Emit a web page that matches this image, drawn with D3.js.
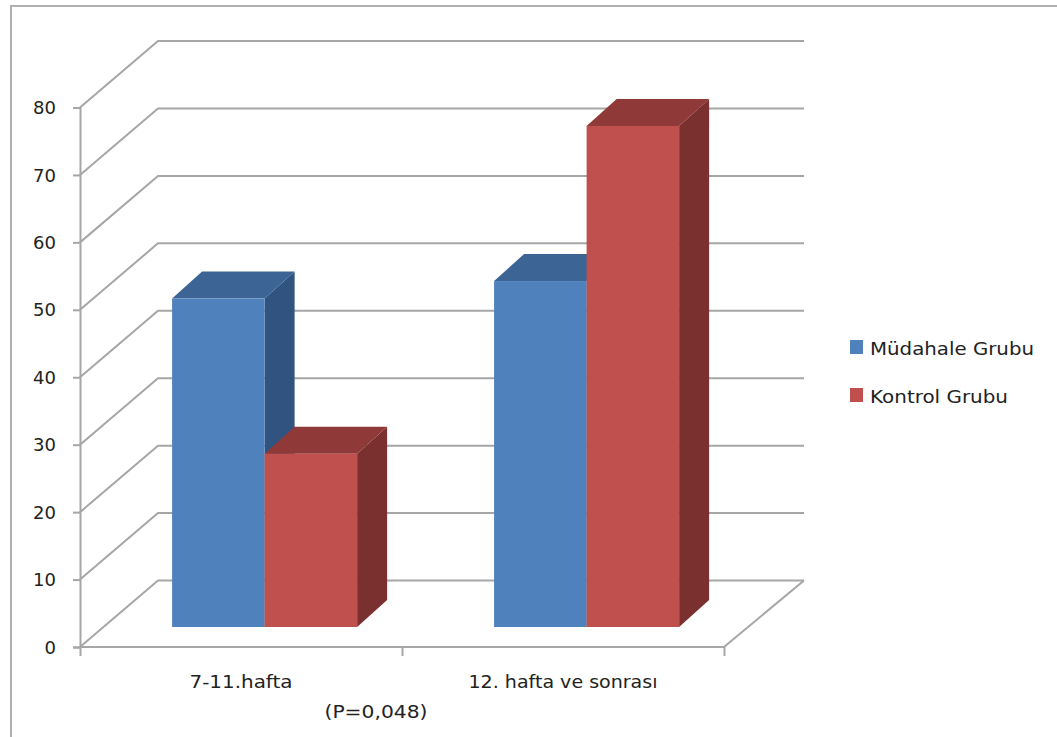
<!DOCTYPE html>
<html>
<head>
<meta charset="utf-8">
<script src="https://cdn.jsdelivr.net/npm/d3@7"></script>
<style>
  html, body { margin: 0; padding: 0; background: #fff; }
  svg { display: block; }
  text { font-family: "DejaVu Sans", sans-serif; fill: #222; }
</style>
</head>
<body>
<svg id="chart" width="1057" height="737"></svg>
<script>
// Weeks of gestation by study group, percentages
const categories = ["7-11.hafta", "12. hafta ve sonrası"];
const seriesNames = ["Müdahale Grubu", "Kontrol Grubu"];
const mudahale = [48.7, 51.3];
const kontrol = [25.7, 74.3];
const yTicks = [0, 10, 20, 30, 40, 50, 60, 70, 80];
const note = "(P=0,048)";

const faceColors = ["#4f81bd", "#c0504d"];
const topColors = ["#3c6494", "#8f3a38"];
const sideColors = ["#30547f", "#7a302e"];
const gridColor = "#a6a6a6";

const svg = d3.select("#chart");

// Outer chart frame, open on the right and bottom edges
svg.append("path")
  .attr("d", d3.line()([[11, 737], [11, 6], [1057, 6]]))
  .attr("fill", "none").attr("stroke", "#b0b0b0").attr("stroke-width", 2);

// Front plane of the 3D box and the offset of its back wall
const x0 = 80, x1 = 724;
const y = d3.scaleLinear().domain([0, 80]).range([647, 107.5]);
const x = d3.scaleBand().domain(categories).range([x0, x1]);
const wall = { dx: 78, dy: -66.5 };

// Bars stand on a plane part-way into the box
const plane = { dx: 23.6, dy: -20 };
const barDepth = { dx: 30, dy: -27 };
const groupPad = 0.2127;

// Gridlines: side wall diagonal plus back wall horizontal
const grid = svg.append("g").attr("fill", "none")
  .attr("stroke", gridColor).attr("stroke-width", 2);
grid.selectAll("path").data(yTicks).join("path")
  .attr("d", v => d3.line()([
    [x0, y(v)],
    [x0 + wall.dx, y(v) + wall.dy],
    [x1 + wall.dx + 2, y(v) + wall.dy]
  ]));
// Right edge of the floor
grid.append("path").attr("d", d3.line()([
  [x1, y(0)], [x1 + wall.dx + 2, y(0) + wall.dy]
]));

// Y axis
const yAxis = d3.axisLeft(y).tickValues(yTicks).tickSize(7).tickPadding(17);
const gy = svg.append("g").attr("transform", `translate(${x0},0)`).call(yAxis);
gy.selectAll("path, line").attr("stroke", gridColor).attr("stroke-width", 2);
gy.selectAll("text").attr("font-size", 18).attr("font-family", "DejaVu Sans").attr("fill", "#222")
  .attr("dy", "0.34em");

// X axis: ticks fall on band edges, labels sit in the band centres
const xEdges = d3.scaleLinear().domain([0, categories.length]).range([x0, x1]);
const gx = svg.append("g").attr("transform", `translate(0,${y(0)})`)
  .call(d3.axisBottom(xEdges).tickValues(d3.range(categories.length + 1)).tickSize(9).tickFormat(""));
gx.selectAll("path, line").attr("stroke", gridColor).attr("stroke-width", 2);
gx.select("path").attr("d", `M${x0},0H${x1}`);

const labelWidths = [103, 189];
svg.selectAll(".cat").data(categories).join("text")
  .attr("class", "cat")
  .attr("x", d => x(d) + x.bandwidth() / 2)
  .attr("y", 688)
  .attr("text-anchor", "middle")
  .attr("font-size", 18)
  .attr("lengthAdjust", "spacingAndGlyphs")
  .attr("textLength", (d, i) => labelWidths[i])
  .text(d => d);

svg.append("text").attr("x", 376).attr("y", 718)
  .attr("text-anchor", "middle").attr("font-size", 18)
  .attr("lengthAdjust", "spacingAndGlyphs")
  .attr("textLength", 103).text(note);

// Bars: draw left to right so neighbouring faces overlap correctly
const barW = x.bandwidth() * (1 - 2 * groupPad) / 2;
const barBase = y(0) + plane.dy;
const barScale = v => y(v) + plane.dy;
const bars = [];
categories.forEach((c, i) => {
  [mudahale, kontrol].forEach((vals, s) => {
    bars.push({
      s, v: vals[i],
      left: x(c) + x.bandwidth() / 2 + plane.dx + (s - 1) * barW
    });
  });
});

const barG = svg.selectAll(".bar").data(bars).join("g").attr("class", "bar");
barG.append("path")
  .attr("fill", d => sideColors[d.s])
  .attr("d", d => {
    const r = d.left + barW, t = barScale(d.v);
    return d3.line()([[r, t], [r + barDepth.dx, t + barDepth.dy],
      [r + barDepth.dx, barBase + barDepth.dy], [r, barBase]]) + "Z";
  });
barG.append("path")
  .attr("fill", d => topColors[d.s])
  .attr("d", d => {
    const r = d.left + barW, t = barScale(d.v);
    return d3.line()([[d.left, t], [d.left + barDepth.dx, t + barDepth.dy],
      [r + barDepth.dx, t + barDepth.dy], [r, t]]) + "Z";
  });
barG.append("rect")
  .attr("fill", d => faceColors[d.s])
  .attr("x", d => d.left)
  .attr("y", d => barScale(d.v))
  .attr("width", barW)
  .attr("height", d => barBase - barScale(d.v));

// Legend
const legendY = d3.scalePoint().domain(seriesNames).range([347, 395]);
const legendWidths = [164, 138];
const legend = svg.selectAll(".legend").data(seriesNames).join("g").attr("class", "legend");
legend.append("rect")
  .attr("x", 850).attr("y", d => legendY(d) - 7)
  .attr("width", 13).attr("height", 14)
  .attr("fill", (d, i) => faceColors[i]);
legend.append("text")
  .attr("x", 870).attr("y", d => legendY(d) + 8)
  .attr("font-size", 18)
  .attr("lengthAdjust", "spacingAndGlyphs")
  .attr("textLength", (d, i) => legendWidths[i])
  .text(d => d);
</script>
</body>
</html>
